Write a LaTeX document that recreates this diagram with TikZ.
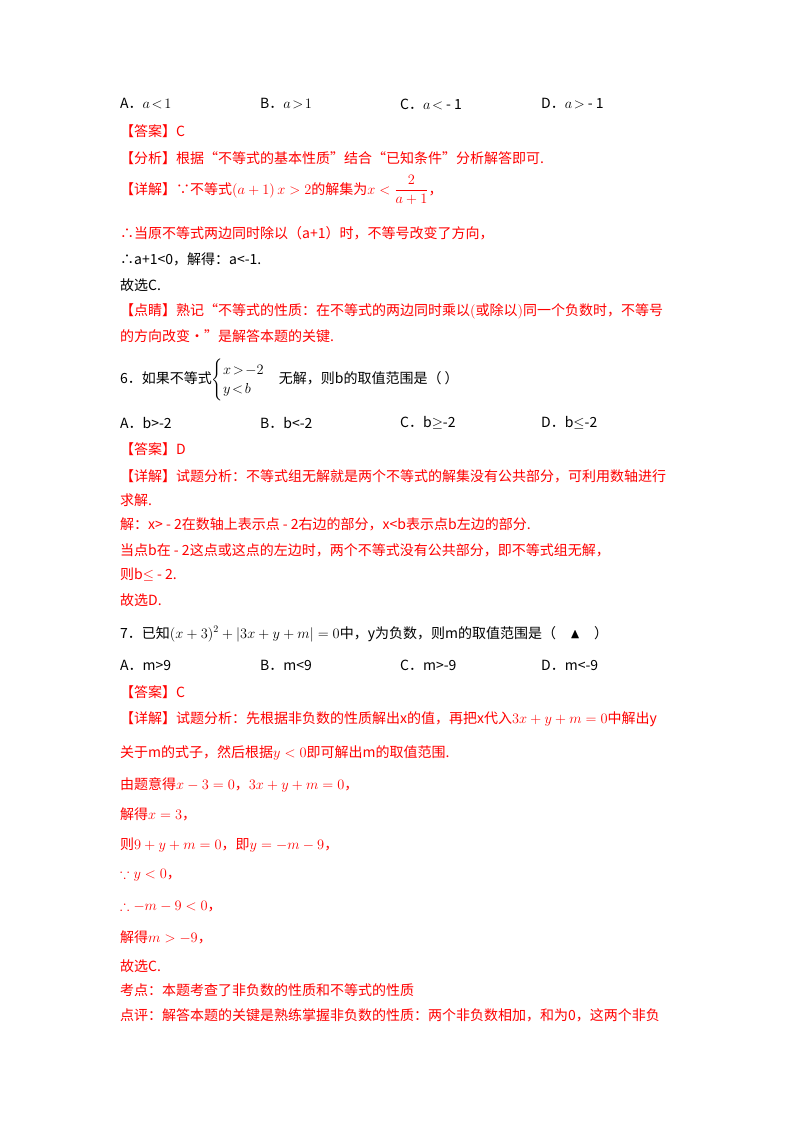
\documentclass[tikz,border=0pt]{standalone}
\usepackage{amsmath,amssymb}
\usepackage{fontspec}
\setmainfont{Noto Sans CJK SC}
\begin{document}
\begin{tikzpicture}[x=1pt,y=-1pt,
    ln/.style={anchor=west,inner sep=0pt,font=\fontsize{14}{16}\selectfont},
    rd/.style={ln,text=red}]
    \useasboundingbox[fill=white] (0,0) rectangle (800,1132);
    \def\xa{120} \def\xb{260} \def\xc{400} \def\xd{541}

    % question 5 (tail)
    \node[ln] (o5a) at (\xa,104) {A．$a\!<\!1$};
    \node[ln] (o5b) at (\xb,104) {B．$a\!>\!1$};
    \node[ln] (o5c) at (\xc,104) {C．$a\!<$ - 1};
    \node[ln] (o5d) at (\xd,104) {D．$a\!>$ - 1};
    \node[rd] (ans5) at (\xa,131) {【答案】C};
    \node[rd] (fx5) at (\xa,158) {【分析】根据“不等式的基本性质”结合“已知条件”分析解答即可.};
    \node[rd] (xj5) at (\xa,190) {【详解】∵不等式$\left(a+1\right)x>2$的解集为$x<\dfrac{2}{a+1}$，};
    \node[rd] (s5a) at (\xa,233) {∴当原不等式两边同时除以（a+1）时，不等号改变了方向，};
    \node[ln] (s5b) at (\xa,259) {∴a+1<0，解得：a<-1.};
    \node[ln] (s5c) at (\xa,285) {故选C.};
    \node[rd] (dj5a) at (\xa,311) {【点睛】熟记“不等式的性质：在不等式的两边同时乘以$($或除以$)$同一个负数时，不等号};
    \node[rd] (dj5b) at (\xa,336) {的方向改变·”是解答本题的关键.};

    % question 6
    \node[ln] (q6) at (\xa,380) {6．如果不等式$\begin{cases}x\!>\!-2\\ y\!<\!b\end{cases}$无解，则b的取值范围是（ ）};
    \node[ln] (o6a) at (\xa,423) {A．b>-2};
    \node[ln] (o6b) at (\xb,423) {B．b<-2};
    \node[ln] (o6c) at (\xc,423) {C．b$\geq$-2};
    \node[ln] (o6d) at (\xd,423) {D．b$\leq$-2};
    \node[rd] (ans6) at (\xa,449) {【答案】D};
    \node[rd] (xj6a) at (\xa,476) {【详解】试题分析：不等式组无解就是两个不等式的解集没有公共部分，可利用数轴进行};
    \node[rd] (xj6b) at (\xa,500) {求解.};
    \node[rd] (s6a) at (\xa,524) {解：x> - 2在数轴上表示点 - 2右边的部分，x<b表示点b左边的部分.};
    \node[rd] (s6b) at (\xa,550) {当点b在 - 2这点或这点的左边时，两个不等式没有公共部分，即不等式组无解，};
    \node[rd] (s6c) at (\xa,575) {则b$\leq$ - 2.};
    \node[rd] (s6d) at (\xa,600) {故选D.};

    % question 7
    \node[ln] (q7) at (\xa,634) {7．已知$(x+3)^2+\left|3x+y+m\right|=0$中，y为负数，则m的取值范围是（\quad$\blacktriangle$\quad）};
    \node[ln] (o7a) at (\xa,665) {A．m>9};
    \node[ln] (o7b) at (\xb,665) {B．m<9};
    \node[ln] (o7c) at (\xc,665) {C．m>-9};
    \node[ln] (o7d) at (\xd,665) {D．m<-9};
    \node[rd] (ans7) at (\xa,692) {【答案】C};
    \node[rd] (xj7a) at (\xa,719) {【详解】试题分析：先根据非负数的性质解出x的值，再把x代入$3x+y+m=0$中解出y};
    \node[rd] (xj7b) at (\xa,753) {关于m的式子，然后根据$y<0$即可解出m的取值范围.};
    \node[rd] (s7a) at (\xa,785) {由题意得$x-3=0$，$3x+y+m=0$，};
    \node[rd] (s7b) at (\xa,814) {解得$x=3$，};
    \node[rd] (s7c) at (\xa,845) {则$9+y+m=0$，即$y=-m-9$，};
    \node[rd] (s7d) at (\xa,875) {$\because y<0$，};
    \node[rd] (s7e) at (\xa,906) {$\therefore -m-9<0$，};
    \node[rd] (s7f) at (\xa,937) {解得$m>-9$，};
    \node[rd] (s7g) at (\xa,966) {故选C.};
    \node[rd] (kd7) at (\xa,990) {考点：本题考查了非负数的性质和不等式的性质};
    \node[rd] (dp7) at (\xa,1015) {点评：解答本题的关键是熟练掌握非负数的性质：两个非负数相加，和为0，这两个非负};
\end{tikzpicture}
\end{document}
